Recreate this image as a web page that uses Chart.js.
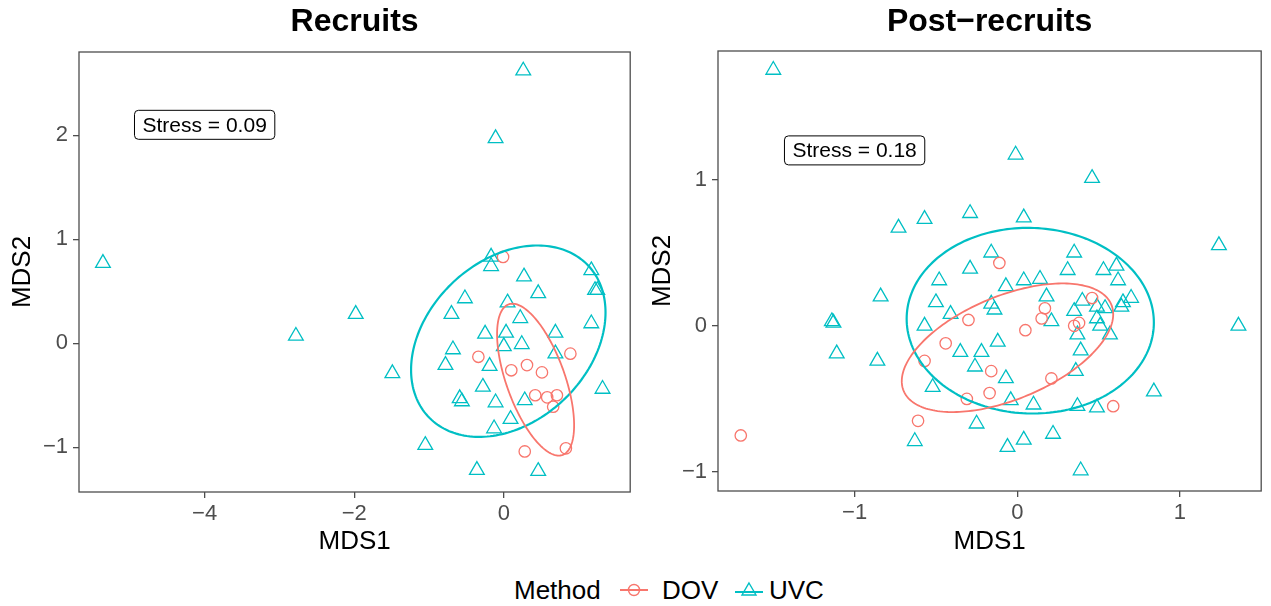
<!DOCTYPE html>
<html>
<head>
<meta charset="utf-8">
<script src="https://cdn.jsdelivr.net/npm/chart.js@4.4.1/dist/chart.umd.min.js"></script>
<style>
  html, body { margin: 0; padding: 0; background: #fff; }
  body { width: 1271px; height: 606px; position: relative; overflow: hidden; font-family: "Liberation Sans", Arial, sans-serif; }
  .panel { position: absolute; top: 0; height: 565px; }
  #legend { position: absolute; left: 0; top: 573px; width: 1271px; height: 34px; font-size: 26px; color: #000; }
  #legend > * { position: absolute; top: 0; line-height: 34px; }
  #legend svg { top: 7px; }
</style>
</head>
<body>
<div class="panel" style="left:0;width:640px"><canvas id="recruits"></canvas></div>
<div class="panel" style="left:640px;width:631px"><canvas id="post"></canvas></div>
<div id="legend">
  <span style="left:514px">Method</span>
  <svg style="left:619px" width="30" height="20"><line x1="1" y1="10" x2="29" y2="10" stroke="#F8766D" stroke-width="2"/><circle cx="15" cy="10" r="5.5" fill="none" stroke="#F8766D" stroke-width="1.4"/></svg>
  <span style="left:662px">DOV</span>
  <svg style="left:734px" width="30" height="20"><line x1="1" y1="12" x2="29" y2="12" stroke="#00BFC4" stroke-width="2"/><polygon points="15,3 22,15 8,15" fill="none" stroke="#00BFC4" stroke-width="1.4"/></svg>
  <span style="left:769px">UVC</span>
</div>
<script>
// Recruits panel
const recruitsUvcX = [0.26, -0.11, -5.36, -1.98, -2.78, -1.49, -1.05, -0.36, 0.46, -0.17, -0.17, 0.27, 0.46, 1.17, 1.22, 1.25, -0.52, 0.05, -0.70, 0.22, 1.17, -0.25, 0.03, 0.69, 0.24, 0.00, -0.68, 0.69, -0.78, -0.19, -0.28, 1.32, -0.59, -0.56, -0.11, 0.28, 0.09, -0.13];
const recruitsUvcY = [2.62, 1.97, 0.77, 0.28, 0.07, -0.29, -0.98, -1.22, -1.23, 0.83, 0.74, 0.64, 0.48, 0.70, 0.51, 0.51, 0.43, 0.39, 0.28, 0.24, 0.19, 0.09, 0.10, 0.10, -0.01, -0.03, -0.06, -0.10, -0.21, -0.22, -0.42, -0.44, -0.53, -0.56, -0.57, -0.55, -0.73, -0.82];
const recruitsDovX = [-0.01, -0.34, 0.89, 0.31, 0.10, 0.51, 0.42, 0.58, 0.71, 0.66, 0.83, 0.28];
const recruitsDovY = [0.83, -0.13, -0.10, -0.21, -0.26, -0.28, -0.50, -0.52, -0.50, -0.61, -1.01, -1.04];
// ellipse: centre x, centre y, half-width x, half-height y, correlation
const recruitsUvcEllipse = [0.06, 0.02, 1.30, 0.92, 0.30];
const recruitsDovEllipse = [0.425, -0.35, 0.515, 0.73, -0.60];
const recruitsXTicks = [-4, -2, 0];
const recruitsYTicks = [-1, 0, 1, 2];
const recruitsStress = 'Stress = 0.09';
const recruitsStressAt = [-4.0, 2.10];

// Post-recruits panel
const postUvcX = [-1.50, -0.01, 0.46, 1.24, 1.36, -0.73, -0.57, -0.29, 0.04, -0.16, 0.35, -0.29, 0.31, 0.53, 0.61, -0.48, 0.04, 0.14, -0.07, 0.62, -0.84, -0.50, -0.16, -0.14, 0.18, 0.40, 0.70, 0.65, 0.64, 0.54, 0.49, 0.35, 0.49, 0.21, 0.51, -1.14, -1.13, -0.41, -0.57, 0.57, 0.37, -0.12, 0.39, -1.11, -0.35, -0.22, -0.86, -0.26, 0.36, -0.07, -0.52, -0.04, 0.10, 0.37, 0.49, 0.84, -0.25, -0.63, -0.06, 0.04, 0.22, 0.39];
const postUvcY = [1.75, 1.17, 1.01, 0.55, 0.00, 0.67, 0.73, 0.77, 0.74, 0.50, 0.50, 0.39, 0.38, 0.38, 0.41, 0.31, 0.31, 0.32, 0.27, 0.31, 0.20, 0.16, 0.15, 0.11, 0.20, 0.17, 0.19, 0.16, 0.13, 0.12, 0.13, 0.10, 0.05, 0.03, 0.00, 0.03, 0.02, 0.08, 0.00, -0.06, -0.06, -0.11, -0.17, -0.19, -0.18, -0.18, -0.24, -0.28, -0.31, -0.36, -0.42, -0.51, -0.54, -0.55, -0.56, -0.45, -0.67, -0.79, -0.83, -0.78, -0.74, -0.99];
const postDovX = [-1.70, -0.11, 0.46, 0.17, 0.15, 0.35, 0.38, -0.30, 0.05, -0.44, -0.57, -0.16, 0.21, -0.17, -0.31, 0.59, -0.61];
const postDovY = [-0.75, 0.43, 0.19, 0.12, 0.05, 0.00, 0.02, 0.04, -0.03, -0.12, -0.24, -0.31, -0.36, -0.46, -0.50, -0.55, -0.65];
const postUvcEllipse = [0.08, 0.035, 0.76, 0.635, -0.02];
const postDovEllipse = [-0.06, -0.15, 0.65, 0.44, 0.52];
const postXTicks = [-1, 0, 1];
const postYTicks = [-1, 0, 1];
const postStress = 'Stress = 0.18';
const postStressAt = [-1.0, 1.20];

const DOV_COLOR = '#F8766D';
const UVC_COLOR = '#00BFC4';
const FONT = '"Liberation Sans", Arial, sans-serif';
const FRAME = '#4D4D4D';

function toPoints(xs, ys) {
    return xs.map(function (x, i) { return {x: x, y: ys[i]}; });
}

function minusLabel(v) {
    return v < 0 ? '\u2212' + Math.abs(v) : String(v);
}

// frame, confidence ellipses and the stress label
const panelExtras = {
    id: 'panelExtras',
    afterDatasetsDraw: function (chart) {
        const ctx = chart.ctx;
        const xs = chart.scales.x, ys = chart.scales.y;
        const extra = chart.options.plugins.panelExtras;
        const area = chart.chartArea;

        ctx.save();
        ctx.beginPath();
        ctx.rect(area.left, area.top, area.right - area.left, area.bottom - area.top);
        ctx.clip();
        extra.ellipses.forEach(function (e) {
            const p = e.params;
            const delta = Math.acos(p[4]);
            ctx.beginPath();
            for (let i = 0; i <= 200; i++) {
                const t = i / 200 * Math.PI * 2;
                const px = xs.getPixelForValue(p[0] + p[2] * Math.cos(t));
                const py = ys.getPixelForValue(p[1] + p[3] * Math.cos(t - delta));
                if (i === 0) ctx.moveTo(px, py); else ctx.lineTo(px, py);
            }
            ctx.closePath();
            ctx.strokeStyle = e.color;
            ctx.lineWidth = e.width;
            ctx.stroke();
        });
        ctx.restore();

        // label box
        ctx.save();
        ctx.font = '21px ' + FONT;
        const tw = ctx.measureText(extra.stress).width;
        const cx = xs.getPixelForValue(extra.stressAt[0]);
        const cy = ys.getPixelForValue(extra.stressAt[1]);
        const w = tw + 16, h = 29;
        ctx.beginPath();
        ctx.roundRect(cx - w / 2, cy - h / 2, w, h, 4);
        ctx.fillStyle = '#fff';
        ctx.fill();
        ctx.strokeStyle = '#000';
        ctx.lineWidth = 1;
        ctx.stroke();
        ctx.fillStyle = '#000';
        ctx.textAlign = 'center';
        ctx.textBaseline = 'middle';
        ctx.fillText(extra.stress, cx, cy + 1);
        ctx.restore();

        ctx.save();
        ctx.strokeStyle = FRAME;
        ctx.lineWidth = 1.3;
        ctx.strokeRect(area.left, area.top, area.right - area.left, area.bottom - area.top);
        ctx.restore();
    }
};

function makePanel(canvasId, cfg) {
    return new Chart(document.getElementById(canvasId), {
        type: 'scatter',
        data: {
            datasets: [{
                label: 'DOV',
                data: toPoints(cfg.dovX, cfg.dovY),
                pointStyle: 'circle',
                pointRadius: 5.7,
                pointHoverRadius: 5.7,
                borderColor: DOV_COLOR,
                backgroundColor: 'rgba(0,0,0,0)',
                pointBorderWidth: 1.3
            }, {
                label: 'UVC',
                data: toPoints(cfg.uvcX, cfg.uvcY),
                pointStyle: 'triangle',
                pointRadius: 8.5,
                pointHoverRadius: 8.5,
                borderColor: UVC_COLOR,
                backgroundColor: 'rgba(0,0,0,0)',
                pointBorderWidth: 1.3
            }]
        },
        options: {
            responsive: true,
            maintainAspectRatio: false,
            animation: false,
            events: [],
            layout: {
                padding: {left: 0, right: cfg.padRight, top: 0, bottom: 0}
            },
            scales: {
                x: {
                    type: 'linear',
                    min: cfg.xMin,
                    max: cfg.xMax,
                    afterBuildTicks: function (scale) {
                        scale.ticks = cfg.xTicks.map(function (v) { return {value: v}; });
                    },
                    afterFit: function (scale) { scale.height = cfg.xAxisHeight; },
                    grid: {display: true, drawOnChartArea: false, drawTicks: true, tickLength: 6, color: FRAME, lineWidth: 1.3},
                    border: {display: false},
                    ticks: {
                        color: '#4D4D4D',
                        font: {family: FONT, size: 22},
                        padding: 3,
                        maxRotation: 0,
                        callback: minusLabel
                    },
                    title: {
                        display: true,
                        text: 'MDS1',
                        color: '#000',
                        font: {family: FONT, size: 26},
                        padding: {top: 0, bottom: 8}
                    }
                },
                y: {
                    type: 'linear',
                    min: cfg.yMin,
                    max: cfg.yMax,
                    afterBuildTicks: function (scale) {
                        scale.ticks = cfg.yTicks.map(function (v) { return {value: v}; });
                    },
                    afterFit: function (scale) { scale.width = cfg.yAxisWidth; },
                    grid: {display: true, drawOnChartArea: false, drawTicks: true, tickLength: 6, color: FRAME, lineWidth: 1.3},
                    border: {display: false},
                    ticks: {
                        color: '#4D4D4D',
                        font: {family: FONT, size: 22},
                        padding: 5,
                        callback: minusLabel
                    },
                    title: {
                        display: true,
                        text: 'MDS2',
                        color: '#000',
                        font: {family: FONT, size: 26},
                        padding: {top: 7, bottom: 0}
                    }
                }
            },
            plugins: {
                legend: {display: false},
                tooltip: {enabled: false},
                title: {
                    display: true,
                    text: cfg.title,
                    fullSize: false,
                    color: '#000',
                    font: {family: FONT, size: 32, weight: 'bold'},
                    padding: {top: 3, bottom: cfg.titleGap}
                },
                panelExtras: {
                    ellipses: [
                        {params: cfg.uvcEllipse, color: UVC_COLOR, width: 2.2},
                        {params: cfg.dovEllipse, color: DOV_COLOR, width: 1.8}
                    ],
                    stress: cfg.stress,
                    stressAt: cfg.stressAt
                }
            }
        },
        plugins: [panelExtras]
    });
}

makePanel('recruits', {
    title: 'Recruits',
    uvcX: recruitsUvcX, uvcY: recruitsUvcY,
    dovX: recruitsDovX, dovY: recruitsDovY,
    uvcEllipse: recruitsUvcEllipse, dovEllipse: recruitsDovEllipse,
    xTicks: recruitsXTicks, yTicks: recruitsYTicks,
    xMin: -5.68, xMax: 1.69, yMin: -1.43, yMax: 2.80,
    stress: recruitsStress, stressAt: recruitsStressAt,
    padRight: 7, xAxisHeight: 73, yAxisWidth: 79, titleGap: 10.6
});

makePanel('post', {
    title: 'Post\u2212recruits',
    uvcX: postUvcX, uvcY: postUvcY,
    dovX: postDovX, dovY: postDovY,
    uvcEllipse: postUvcEllipse, dovEllipse: postDovEllipse,
    xTicks: postXTicks, yTicks: postYTicks,
    xMin: -1.84, xMax: 1.50, yMin: -1.13, yMax: 1.88,
    stress: postStress, stressAt: postStressAt,
    padRight: 1, xAxisHeight: 74, yAxisWidth: 78, titleGap: 9.6
});
</script>
</body>
</html>
